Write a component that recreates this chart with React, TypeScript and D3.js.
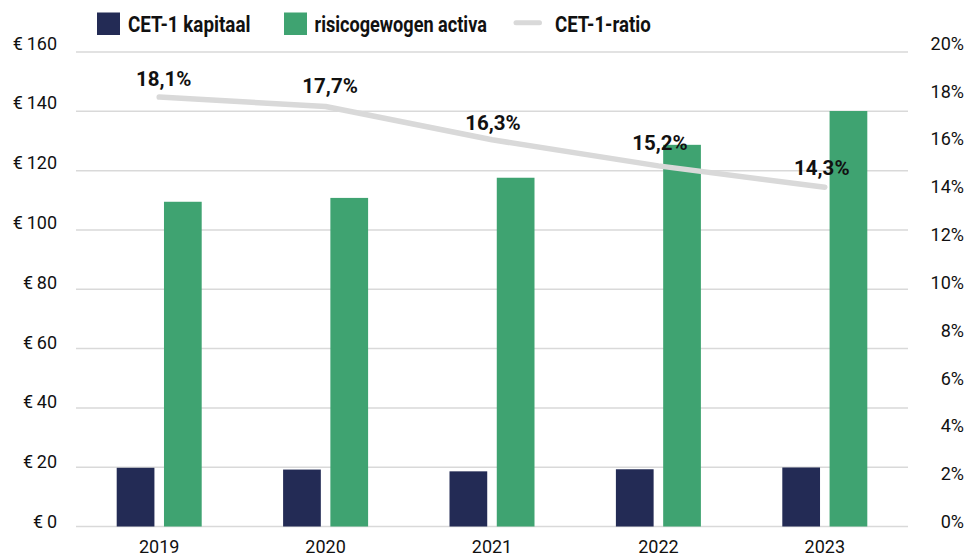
import React from "react";
import * as d3 from "d3";

const years = ["2019", "2020", "2021", "2022", "2023"];
const cetKapitaal = [19.8, 19.2, 18.6, 19.3, 19.9];
const risicogewogenActiva = [109.5, 110.8, 117.6, 128.7, 140.1];
const cetRatio = [18.1, 17.7, 16.3, 15.2, 14.3];
const leftTicks = [0, 20, 40, 60, 80, 100, 120, 140, 160];
const rightTicks = [0, 2, 4, 6, 8, 10, 12, 14, 16, 18, 20];

const NAVY = "#232b55";
const GREEN = "#3fa371";
const GRAY = "#d9d9d9";
const FONT = "Roboto, 'Noto Sans', sans-serif";

export default function App() {
  const W = 966, H = 557;
  const left = 76, right = 908, top = 52, bottom = 526.5;
  const x = d3.scaleBand<string>().domain(years).range([left, right]).padding(0);
  const inner = d3.scaleBand<string>().domain(["cet", "rwa"]).range([-42.5, 42.5]).paddingInner(0.202).paddingOuter(0);
  const yL = d3.scaleLinear().domain([0, 160]).range([bottom, top]);
  const yR = d3.scaleLinear().domain([0, 20]).range([bottom, top]);
  const labL = d3.scaleLinear().domain([0, 160]).range([528, 49.5]);
  const labR = d3.scaleLinear().domain([0, 20]).range([528, 49.8]);
  const cx = (yr: string) => (x(yr) as number) + x.bandwidth() / 2;

  const line = d3.line<number>()
    .x((_, i) => cx(years[i]))
    .y((d) => yR(d));

  const labelDy = [11.5, 13.7, 9.5, 16, 12.5];
  const labelDx = [4.5, 4.5, 1, 1.6, -3];

  return (
    <svg width={W} height={H} style={{ position: "absolute", left: 0, top: 0, background: "#fff" }} fontFamily={FONT}>
      {leftTicks.map((t) => (
        <line key={"g" + t} x1={left} x2={right} y1={yL(t)} y2={yL(t)} stroke={GRAY} strokeWidth={1.5} />
      ))}
      {leftTicks.map((t) => (
        <text key={"l" + t} x={57} y={labL(t)} textAnchor="end" fontSize={18} fill="#111">
          {"€\u2009" + t}
        </text>
      ))}
      {rightTicks.map((t) => (
        <text key={"r" + t} x={964} y={labR(t)} textAnchor="end" fontSize={18} fill="#111">
          {t + "%"}
        </text>
      ))}
      {years.map((yr) => (
        <text key={"x" + yr} x={cx(yr)} y={553} textAnchor="middle" fontSize={18} fill="#111">
          {yr}
        </text>
      ))}
      {years.map((yr, i) => (
        <g key={"b" + yr}>
          <rect x={cx(yr) + (inner("cet") as number)} y={yL(cetKapitaal[i])} width={inner.bandwidth()} height={bottom - yL(cetKapitaal[i])} fill={NAVY} />
          <rect x={cx(yr) + (inner("rwa") as number)} y={yL(risicogewogenActiva[i])} width={inner.bandwidth()} height={bottom - yL(risicogewogenActiva[i])} fill={GREEN} />
        </g>
      ))}
      <path d={line(cetRatio) || ""} fill="none" stroke={GRAY} strokeWidth={5.5} strokeLinecap="round" strokeLinejoin="round" />
      {years.map((yr, i) => (
        <text key={"v" + yr} x={cx(yr) + labelDx[i]} y={yR(cetRatio[i]) - labelDy[i]} textAnchor="middle" fontSize={20.5} fontWeight="bold" fill="#111">
          {cetRatio[i].toFixed(1).replace(".", ",") + "%"}
        </text>
      ))}
      {/* legend */}
      <rect x={97} y={12.5} width={23} height={22.5} fill={NAVY} />
      <text x={128} y={31.7} fontSize={22} fontWeight="bold" fill="#111" textLength={122.5} lengthAdjust="spacingAndGlyphs">CET-1 kapitaal</text>
      <rect x={284} y={12.5} width={23} height={22.5} fill={GREEN} />
      <text x={314.5} y={31.7} fontSize={22} fontWeight="bold" fill="#111" textLength={172.4} lengthAdjust="spacingAndGlyphs">risicogewogen activa</text>
      <line x1={516} x2={539.5} y1={22.8} y2={22.8} stroke={GRAY} strokeWidth={5} strokeLinecap="round" />
      <text x={555} y={31.7} fontSize={22} fontWeight="bold" fill="#111" textLength={95.7} lengthAdjust="spacingAndGlyphs">CET-1-ratio</text>
    </svg>
  );
}
